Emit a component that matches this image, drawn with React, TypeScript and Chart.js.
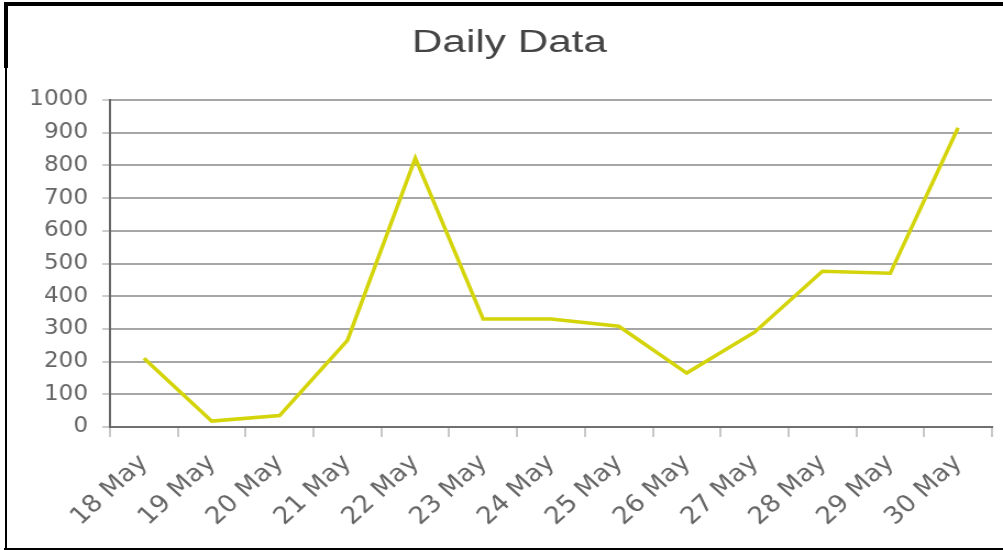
import React, { useEffect, useRef } from "react";
import { Chart, registerables } from "chart.js";

Chart.register(...registerables);

const categories = ["18 May", "19 May", "20 May", "21 May", "22 May", "23 May", "24 May", "25 May", "26 May", "27 May", "28 May", "29 May", "30 May"];
const values = [210, 18, 35, 265, 822, 330, 330, 308, 165, 290, 476, 470, 915];
const yTicks = [0, 100, 200, 300, 400, 500, 600, 700, 800, 900, 1000];
const titleText = "Daily Data";

const STRETCH = 1.1;
const PAGE_W = 1003;
const PAGE_H = 550;
const CANVAS_W = Math.round(PAGE_W / STRETCH);
const FONT = "'DejaVu Sans', Verdana, sans-serif";
const TITLE_FONT = "'Liberation Sans', Arial, sans-serif";

const titlePlugin = {
  id: "stretchedTitle",
  afterDraw(chart: any) {
    const ctx = chart.ctx as CanvasRenderingContext2D;
    ctx.save();
    ctx.font = `31px ${TITLE_FONT}`;
    ctx.fillStyle = "#444444";
    ctx.textAlign = "center";
    ctx.textBaseline = "alphabetic";
    ctx.translate(509.5 / STRETCH, 52);
    ctx.scale(1.24, 1);
    ctx.fillText(titleText, 0, 0);
    ctx.restore();
  },
};

export default function App() {
  const ref = useRef<HTMLCanvasElement | null>(null);

  useEffect(() => {
    if (!ref.current) return;
    const chart = new Chart(ref.current, {
      type: "line",
      data: {
        labels: categories,
        datasets: [
          {
            data: values,
            borderColor: "#d4d40a",
            borderWidth: 3.5,
            pointRadius: 0,
            tension: 0,
            fill: false,
          },
        ],
      },
      plugins: [titlePlugin],
      options: {
        animation: false,
        responsive: false,
        devicePixelRatio: 1,
        layout: { padding: { left: 0, right: 10, top: 100, bottom: 0 } },
        plugins: {
          legend: { display: false },
          tooltip: { enabled: false },
          title: { display: false },
        },
        scales: {
          x: {
            type: "category",
            offset: true,
            afterFit: (s: any) => {
              s.height = 123;
            },
            grid: {
              display: true,
              drawOnChartArea: false,
              drawTicks: true,
              tickLength: 10,
              tickColor: "#c8c8c8",
              lineWidth: 2,
              offset: true,
            },
            border: { display: true, color: "#707070", width: 2 },
            ticks: {
              color: "#666666",
              font: { family: FONT, size: 24 },
              minRotation: 45,
              maxRotation: 45,
              autoSkip: false,
              padding: 12,
            },
          },
          y: {
            min: 0,
            max: 1000,
            afterFit: (s: any) => {
              s.width = 100;
            },
            afterBuildTicks: (s: any) => {
              s.ticks = yTicks.map((v) => ({ value: v }));
            },
            grid: {
              color: "#a6a6a6",
              lineWidth: 2,
              tickLength: 7,
              tickColor: "#cccccc",
            },
            border: { display: true, color: "#666666", width: 2 },
            ticks: {
              color: "#666666",
              font: { family: FONT, size: 21 },
              padding: 13,
              callback: (v: any) => String(v),
            },
          },
        },
      },
    });
    return () => chart.destroy();
  }, []);

  return (
    <div style={{ position: "fixed", left: 0, top: 0, width: PAGE_W, height: PAGE_H, background: "#fff", overflow: "hidden" }}>
      <canvas
        ref={ref}
        width={CANVAS_W}
        height={PAGE_H}
        style={{ position: "absolute", left: 0, top: 0, width: PAGE_W + "px", height: PAGE_H + "px", display: "block" }}
      />
      <div style={{ position: "absolute", left: 4, top: 2, width: PAGE_W - 4, height: 4, background: "#000" }} />
      <div style={{ position: "absolute", left: 4, top: 2, width: 4, height: 66, background: "#000" }} />
      <div style={{ position: "absolute", left: 5, top: 67, width: 2, height: PAGE_H - 67, background: "#000" }} />
      <div style={{ position: "absolute", left: 4, top: PAGE_H - 2, width: PAGE_W - 4, height: 2, background: "#000" }} />
    </div>
  );
}
